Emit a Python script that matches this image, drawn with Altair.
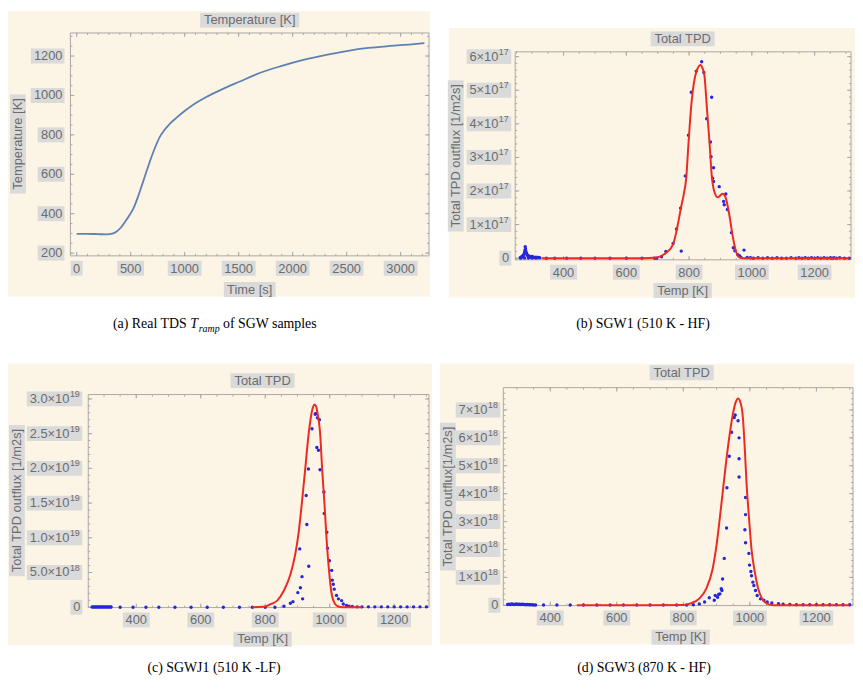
import altair as alt
import pandas as pd

# ---------------- values ----------------
# (a) real TDS temperature ramp
ramp_time_s = [0, 100, 200, 280, 330, 370, 410, 450, 490, 530, 570, 610, 650, 690, 730, 770,
               810, 860, 920, 1000, 1100, 1200, 1350, 1500, 1700, 1900, 2100, 2300, 2500, 2700,
               2900, 3100, 3220]
ramp_temp_K = [298, 298, 296, 295, 299, 310, 330, 360, 393, 432, 489, 554, 620, 684, 741, 790,
               823, 855, 885, 921, 960, 992, 1032, 1068, 1115, 1150, 1180, 1204, 1225, 1241,
               1251, 1259, 1265]
ramp_xticks = [0, 500, 1000, 1500, 2000, 2500, 3000]
ramp_yticks = [200, 400, 600, 800, 1000, 1200]

temp_xticks = [400, 600, 800, 1000, 1200]

# (b) SGW1 (510 K - HF): flux in units of 1e17 1/m2s
sgw1_fit_T = [330, 500, 650, 696, 728, 749, 760, 775, 783, 791, 798, 807, 815, 823, 830, 836,
              843, 849, 857, 865, 872, 880, 891, 907, 917, 928, 938, 949, 959, 975, 1000, 1310]
sgw1_fit_v = [0, 0, 0, 0.02, 0.17, 0.41, 0.81, 1.54, 1.9, 2.4, 3.4, 4.55, 5.2, 5.55, 5.7, 5.75,
              5.65, 5.43, 4.44, 3.46, 2.48, 1.99, 1.81, 1.92, 1.79, 1.30, 0.71, 0.22, 0.03, 0, 0, 0]
sgw1_points = [
    (262, 0.01), (264, 0.005), (265, 0.03), (268, 0.06), (270, 0.04), (272, 0.09), (274, 0.12),
    (276, 0.18), (276, 0.005), (277, 0.24), (278, 0.34), (279, 0.27), (280, 0.2), (282, 0.15),
    (284, 0.1), (286, 0.08), (288, 0.05), (288, 0.005), (291, 0.06), (294, 0.04), (297, 0.03),
    (300, 0.05), (300, 0.005), (304, 0.03), (308, 0.02), (312, 0.03), (312, 0.005), (316, 0.02),
    (320, 0.02), (324, 0.01),
    (345, 0), (372, 0), (410, 0), (455, 0), (500, 0), (548, 0), (600, 0), (650, 0), (690, 0),
    (697, 0.0), (712, 0.04), (726, 0.2), (749, 0.44), (760, 0.87), (773, 1.49), (775, 0.21),
    (788, 2.45), (798, 3.66), (807, 4.94), (823, 5.57), (840, 5.85), (847, 5.53), (856, 4.15),
    (868, 3.46), (870, 3.02), (872, 4.79), (875, 2.38), (878, 2.69), (878, 2.28), (896, 2.13),
    (910, 1.69), (912, 1.59), (917, 1.91), (922, 1.45), (935, 0.76), (941, 0.31), (946, 0.22),
    (955, 0.1), (960, 0.07), (965, 0.03), (975, 0.24), (985, 0.02),
    (995, 0.01), (1005, 0.0), (1020, 0.01), (1035, 0.0), (1050, 0.01), (1065, 0.0), (1080, 0.01),
    (1095, 0.0), (1110, 0.0), (1125, 0.01), (1140, 0.0), (1150, 0.01), (1160, 0.0), (1170, 0.01),
    (1180, 0.0), (1190, 0.01), (1200, 0.0), (1210, 0.01), (1220, 0.0), (1230, 0.01), (1240, 0.0),
    (1250, 0.01), (1256, 0.0), (1262, 0.01), (1270, 0.0), (1280, 0.01), (1295, 0.0), (1310, 0.0)]
sgw1_yticks = [0, 1, 2, 3, 4, 5, 6]
sgw1_ylabels = ["0", "1×10¹⁷", "2×10¹⁷", "3×10¹⁷", "4×10¹⁷", "5×10¹⁷", "6×10¹⁷"]

# (c) SGWJ1 (510 K - LF): flux in units of 1e19 1/m2s
sgwj1_fit_T = [760, 790, 806, 820, 837, 858, 878, 893, 904, 914, 924, 934, 942, 948, 953, 958,
               962, 970, 977, 984, 990, 999, 1006, 1016, 1027, 1040, 1100]
sgwj1_fit_v = [0, 0.005, 0.02, 0.05, 0.095, 0.24, 0.47, 0.76, 1.09, 1.52, 1.99, 2.47, 2.75, 2.88,
               2.92, 2.89, 2.80, 2.52, 1.95, 1.47, 1.0, 0.47, 0.19, 0.05, 0.01, 0, 0]
sgwj1_points = [
    (263, 0.004), (267, 0.004), (271, 0.004), (275, 0.004), (279, 0.004), (283, 0.004),
    (287, 0.004), (291, 0.004), (295, 0.004), (299, 0.004), (303, 0.004), (307, 0.004),
    (311, 0.004), (315, 0.004), (319, 0.004), (322, 0.004),
    (350, 0), (390, 0), (430, 0), (470, 0), (520, 0), (570, 0), (620, 0), (670, 0), (720, 0),
    (760, 0), (800, 0), (830, 0),
    (858, 0.014), (878, 0.057), (886, 0.08), (901, 0.21), (907, 0.84), (909, 0.28), (914, 0.44),
    (916, 0.12), (927, 1.61), (929, 1.19), (934, 1.99), (935, 0.59), (945, 2.57), (955, 2.78),
    (957, 2.79), (960, 2.30), (962, 2.73), (965, 2.26), (968, 2.70), (970, 1.98), (982, 1.66),
    (983, 1.35), (991, 1.08), (993, 0.85), (999, 0.67), (1006, 0.53), (1008, 0.39), (1011, 0.33),
    (1014, 0.26), (1021, 0.17), (1027, 0.12), (1037, 0.095), (1042, 0.047), (1052, 0.024),
    (1060, 0.015), (1070, 0.01),
    (1085, 0.005), (1100, 0.005), (1120, 0.005), (1140, 0.005), (1160, 0.005), (1180, 0.005),
    (1200, 0.005), (1220, 0.005), (1240, 0.005), (1260, 0.005), (1280, 0.005), (1300, 0.005)]
sgwj1_yticks = [0, 0.5, 1.0, 1.5, 2.0, 2.5, 3.0]
sgwj1_ylabels = ["0", "5.0×10¹⁸", "1.0×10¹⁹", "1.5×10¹⁹", "2.0×10¹⁹", "2.5×10¹⁹", "3.0×10¹⁹"]

# (d) SGW3 (870 K - HF): flux in units of 1e18 1/m2s
sgw3_fit_T = [480, 800, 820, 848, 869, 888, 898, 908, 918, 928, 938, 948, 957, 964.5, 972, 979,
              985, 990, 997, 1005, 1015, 1025, 1037, 1052, 1070, 1300]
sgw3_fit_v = [0, 0.01, 0.06, 0.24, 0.6, 1.3, 2.0, 2.95, 4.01, 5.08, 6.02, 6.79, 7.26, 7.41, 7.26,
              6.73, 5.55, 4.37, 3.19, 2.0, 1.18, 0.59, 0.23, 0.06, 0.0, 0.0]
sgw3_points = [
    (272, 0.03), (276, 0.04), (280, 0.03), (284, 0.05), (288, 0.04), (292, 0.03), (296, 0.04),
    (300, 0.05), (304, 0.03), (308, 0.04), (312, 0.03), (316, 0.04), (320, 0.03), (324, 0.03),
    (328, 0.02), (332, 0.03), (336, 0.02), (340, 0.02), (345, 0.02), (350, 0.01), (356, 0.01),
    (380, 0.01), (420, 0.01), (460, 0.01), (500, 0.01), (540, 0.01), (580, 0.01), (620, 0.01),
    (660, 0.01), (700, 0.01), (740, 0.01), (780, 0.01), (810, 0.01), (830, 0.02), (848, 0.05),
    (864, 0.12), (878, 0.27), (893, 0.18), (896, 0.35), (903, 0.29), (906, 0.39), (910, 0.41),
    (914, 0.59), (916, 0.53), (918, 0.94), (923, 1.68), (930, 2.77), (931, 4.21), (938, 5.34),
    (945, 6.20), (953, 6.73), (956, 6.82), (964.5, 6.61), (967.5, 6.0), (967.5, 5.25),
    (967.5, 4.6), (985, 2.71), (987, 3.86), (987, 3.25), (987, 2.24), (997, 1.86), (999, 1.44),
    (1003, 1.21), (1005, 1.06), (1009, 0.83), (1012, 0.71), (1017, 0.53), (1022, 0.35),
    (1032, 0.23), (1042, 0.18), (1052, 0.12), (1066, 0.08), (1086, 0.06), (1100, 0.04),
    (1120, 0.03), (1140, 0.02), (1160, 0.02), (1180, 0.02), (1200, 0.02), (1220, 0.02),
    (1240, 0.02), (1260, 0.02), (1280, 0.02), (1300, 0.02)]
sgw3_yticks = [0, 1, 2, 3, 4, 5, 6, 7]
sgw3_ylabels = ["0", "1×10¹⁸", "2×10¹⁸", "3×10¹⁸", "4×10¹⁸", "5×10¹⁸", "6×10¹⁸", "7×10¹⁸"]

# ---------------- styling ----------------
SANS = "Liberation Sans"
SERIF = "Liberation Serif"
BEIGE = "#fcf4e4"
BOX = "#dadada"
FRAME = "#a8a8a8"
TXT = "#6c6c6c"
RED = "#ec2a22"
BLUE = "#2626dc"
LINE = "#5e81b5"
FS = 13
EXP_FS = 9
ONE = pd.DataFrame({"k": [0]})
SUP = str.maketrans("⁰¹²³⁴⁵⁶⁷⁸⁹", "0123456789")

CW = {c: 0.556 for c in "0123456789"}
CW.update({".": 0.278, "×": 0.584, " ": 0.278, "[": 0.278, "]": 0.278, "/": 0.278,
           "T": 0.611, "m": 0.833, "r": 0.333, "t": 0.278, "i": 0.222, "l": 0.222, "s": 0.5,
           "K": 0.667, "P": 0.667, "D": 0.722, "f": 0.278, "x": 0.5})


def tw(s, fs=FS):
    return sum(CW.get(c, 0.556) for c in s) * fs


def split_label(lab):
    if "×10" in lab:
        i = lab.index("×10") + 3
        return lab[:i], lab[i:].translate(SUP)
    return lab, ""


def label_width(lab):
    base, exp = split_label(lab)
    return tw(base) + (tw(exp, EXP_FS) + 1 if exp else 0)


def rect_path(w, h, anchor="center"):
    x0, x1 = (-w, 0) if anchor == "right" else (-w / 2, w / 2)
    return f"M{x0:.1f},{-h / 2:.1f}H{x1:.1f}V{h / 2:.1f}H{x0:.1f}Z"


def rect_px(x1, y1, x2, y2, **kw):
    return alt.Chart(ONE).mark_rect(**kw).encode(
        x=alt.value(x1), x2=alt.value(x2), y=alt.value(y1), y2=alt.value(y2))


def box_px(cx, cy, w, h):
    return alt.Chart(ONE).mark_point(shape=rect_path(w, h), size=4, filled=True, color=BOX,
                                     opacity=1, strokeWidth=0).encode(
        x=alt.value(cx), y=alt.value(cy))


def text_px(txt, x, y, size=FS, color=TXT, font=SANS, angle=0, align="center",
            baseline="middle", style="normal"):
    return alt.Chart(ONE).mark_text(text=txt, fontSize=size, color=color, font=font,
                                    angle=angle, align=align, baseline=baseline,
                                    fontStyle=style).encode(x=alt.value(x), y=alt.value(y))


def boxed_text(txt, x, y, vertical=False):
    w = tw(txt) + 6
    if vertical:
        return [box_px(x, y, 16, w), text_px(txt, x, y, angle=270)]
    return [box_px(x, y, w, 15), text_px(txt, x, y)]


def panel(view, plot, beige, xdom, ydom, xt, xl, yt, yl, ygap, xminor, yminor,
          title, xtitle, ytitle, caption, data_fn):
    vx, vy, vw, vh = view
    X = lambda p: p - vx
    Y = lambda p: p - vy
    x0, y0, x1, y1 = X(plot[0]), Y(plot[1]), X(plot[2]), Y(plot[3])
    xs = alt.Scale(domain=xdom, range=[x0, x1], nice=False, zero=False)
    ys = alt.Scale(domain=ydom, range=[y1, y0], nice=False, zero=False)
    L = [rect_px(X(beige[0]), Y(beige[1]), X(beige[2]), Y(beige[3]), color=BEIGE)]
    # label boxes along x
    groups = {}
    for t, l in zip(xt, xl):
        groups.setdefault(round(tw(l) + 5), []).append(t)
    for w, vals in groups.items():
        L.append(alt.Chart(pd.DataFrame({"v": vals})).mark_point(
            shape=rect_path(w, 15), size=4, filled=True, color=BOX, opacity=1, strokeWidth=0
        ).encode(x=alt.X("v:Q", scale=xs, axis=None), y=alt.value(y1 + 12.5)))
    # label boxes along y
    groups = {}
    for t, l in zip(yt, yl):
        groups.setdefault(round(label_width(l) + 5), []).append(t)
    for w, vals in groups.items():
        L.append(alt.Chart(pd.DataFrame({"v": vals})).mark_point(
            shape=rect_path(w, 15, "right"), size=4, filled=True, color=BOX, opacity=1,
            strokeWidth=0
        ).encode(y=alt.Y("v:Q", scale=ys, axis=None), x=alt.value(x0 - ygap)))
    # x tick labels
    L.append(alt.Chart(pd.DataFrame({"v": xt, "lab": xl})).mark_text(
        fontSize=FS, font=SANS, color=TXT, baseline="top", align="center"
    ).encode(x=alt.X("v:Q", scale=xs, axis=None), y=alt.value(y1 + 7), text="lab:N"))
    # y tick labels: mantissa and raised exponent
    right = x0 - ygap - 2
    parts = {}
    for t, l in zip(yt, yl):
        base, exp = split_label(l)
        parts.setdefault(exp, []).append((t, base))
    for exp, items in parts.items():
        ew = tw(exp, EXP_FS) + 1 if exp else 0
        d = pd.DataFrame({"v": [t for t, _ in items], "base": [b for _, b in items],
                          "exp": [exp] * len(items)})
        L.append(alt.Chart(d).mark_text(
            fontSize=FS, font=SANS, color=TXT, baseline="middle", align="right"
        ).encode(y=alt.Y("v:Q", scale=ys, axis=None), x=alt.value(right - ew), text="base:N"))
        if exp:
            L.append(alt.Chart(d).mark_text(
                fontSize=EXP_FS, font=SANS, color=TXT, baseline="middle", align="left", dy=-5
            ).encode(y=alt.Y("v:Q", scale=ys, axis=None), x=alt.value(right - ew + 0.5),
                     text="exp:N"))
    # frame and inward ticks
    L.append(rect_px(x0, y0, x1, y1, fill="transparent", stroke=FRAME, strokeWidth=1))
    for vals, ln in ((xt, 4), (xminor, 2)):
        d = pd.DataFrame({"v": vals})
        L.append(alt.Chart(d).mark_rule(color=FRAME, strokeWidth=1).encode(
            x=alt.X("v:Q", scale=xs, axis=None), y=alt.value(y1), y2=alt.value(y1 - ln)))
        L.append(alt.Chart(d).mark_rule(color=FRAME, strokeWidth=1).encode(
            x=alt.X("v:Q", scale=xs, axis=None), y=alt.value(y0), y2=alt.value(y0 + ln)))
    for vals, ln in ((yt, 4), (yminor, 2)):
        d = pd.DataFrame({"v": vals})
        L.append(alt.Chart(d).mark_rule(color=FRAME, strokeWidth=1).encode(
            y=alt.Y("v:Q", scale=ys, axis=None), x=alt.value(x0), x2=alt.value(x0 + ln)))
        L.append(alt.Chart(d).mark_rule(color=FRAME, strokeWidth=1).encode(
            y=alt.Y("v:Q", scale=ys, axis=None), x=alt.value(x1), x2=alt.value(x1 - ln)))
    L += boxed_text(title[0], X(title[1]), Y(title[2]))
    L += boxed_text(xtitle[0], X(xtitle[1]), Y(xtitle[2]))
    L += boxed_text(ytitle[0], X(ytitle[1]), Y(ytitle[2]), vertical=True)
    for txt, px_, py_, size, style, align in caption:
        L.append(text_px(txt, X(px_), Y(py_), size=size, color="black", font=SERIF,
                         align=align, baseline="alphabetic", style=style))
    L += data_fn(xs, ys)
    return alt.layer(*L).properties(width=vw, height=vh)


def tpd_layers(fit_T, fit_v, pts):
    fit = pd.DataFrame({"T": fit_T, "v": fit_v})
    pdf = pd.DataFrame(pts, columns=["T", "v"])

    def f(xs, ys):
        return [
            alt.Chart(pdf).mark_circle(size=12, color=BLUE, opacity=1).encode(
                x=alt.X("T:Q", scale=xs, axis=None), y=alt.Y("v:Q", scale=ys, axis=None)),
            alt.Chart(fit).mark_line(color=RED, strokeWidth=2, interpolate="monotone").encode(
                x=alt.X("T:Q", scale=xs, axis=None), y=alt.Y("v:Q", scale=ys, axis=None)),
        ]
    return f


def ramp_layers(xs, ys):
    ramp = pd.DataFrame({"t": ramp_time_s, "T": ramp_temp_K})
    return [alt.Chart(ramp).mark_line(color=LINE, strokeWidth=1.8, interpolate="monotone").encode(
        x=alt.X("t:Q", scale=xs, axis=None), y=alt.Y("T:Q", scale=ys, axis=None))]


# ---------------- panels (page pixel layout) ----------------
pa = panel(
    (8, 8, 426, 354), (71, 30, 433, 255), (8, 8, 434, 296),
    [-58, 3263], [186, 1317],
    ramp_xticks, [str(v) for v in ramp_xticks], ramp_yticks, [str(v) for v in ramp_yticks], 6,
    list(range(0, 3300, 100)), list(range(200, 1301, 50)),
    ("Temperature [K]", 252, 17), ("Time [s]", 252, 289), ("Temperature [K]", 18, 142),
    [("(a) Real TDS", 114, 328, 14, "normal", "left"),
     ("T", 192, 328, 14, "italic", "left"),
     ("ramp", 200.5, 331.5, 10, "italic", "left"),
     ("of SGW samples", 225, 328, 14, "normal", "left")],
    ramp_layers)

pb = panel(
    (452, 8, 410, 354), (519, 49, 858, 259), (452, 25, 862, 297),
    [246, 1316], [-0.05, 6.145],
    temp_xticks, [str(v) for v in temp_xticks], sgw1_yticks, sgw1_ylabels, 4,
    list(range(250, 1301, 50)), [round(v * 0.2, 1) for v in range(0, 31)],
    ("Total TPD", 688, 36), ("Temp [K]", 688, 290), ("Total TPD outflux [1/m2s]", 459, 154),
    [("(b) SGW1 (510 K - HF)", 648, 328, 14, "normal", "center")],
    tpd_layers(sgw1_fit_T, sgw1_fit_v, sgw1_points))

pc = panel(
    (8, 362, 428, 326), (89, 395, 433, 610), (8, 364, 436, 648),
    [251, 1308], [-0.005, 3.063],
    temp_xticks, [str(v) for v in temp_xticks], sgwj1_yticks, sgwj1_ylabels, 6,
    list(range(300, 1301, 50)), [round(v * 0.1, 1) for v in range(0, 31)],
    ("Total TPD", 265, 381), ("Temp [K]", 265, 642), ("Total TPD outflux [1/m2s]", 17, 502),
    [("(c) SGWJ1 (510 K -LF)", 216, 675, 14, "normal", "center")],
    tpd_layers(sgwj1_fit_T, sgwj1_fit_v, sgwj1_points))

pd_ = panel(
    (444, 362, 418, 326), (508, 388, 861, 608), (444, 364, 862, 647),
    [259, 1310], [-0.01, 7.80],
    temp_xticks, [str(v) for v in temp_xticks], sgw3_yticks, sgw3_ylabels, 3,
    list(range(300, 1301, 50)), [round(v * 0.2, 1) for v in range(0, 39)],
    ("Total TPD", 688, 373), ("Temp [K]", 687, 640), ("Total TPD outflux[1/m2s]", 452, 498),
    [("(d) SGW3 (870 K - HF)", 650, 675, 14, "normal", "center")],
    tpd_layers(sgw3_fit_T, sgw3_fit_v, sgw3_points))

chart = alt.vconcat(
    alt.hconcat(pa, pb, spacing=18),
    alt.hconcat(pc, pd_, spacing=8),
    spacing=0,
).properties(padding=0, background="white").configure_view(stroke=None)

chart.save("out.html", embed_options={"renderer": "svg", "actions": False})
